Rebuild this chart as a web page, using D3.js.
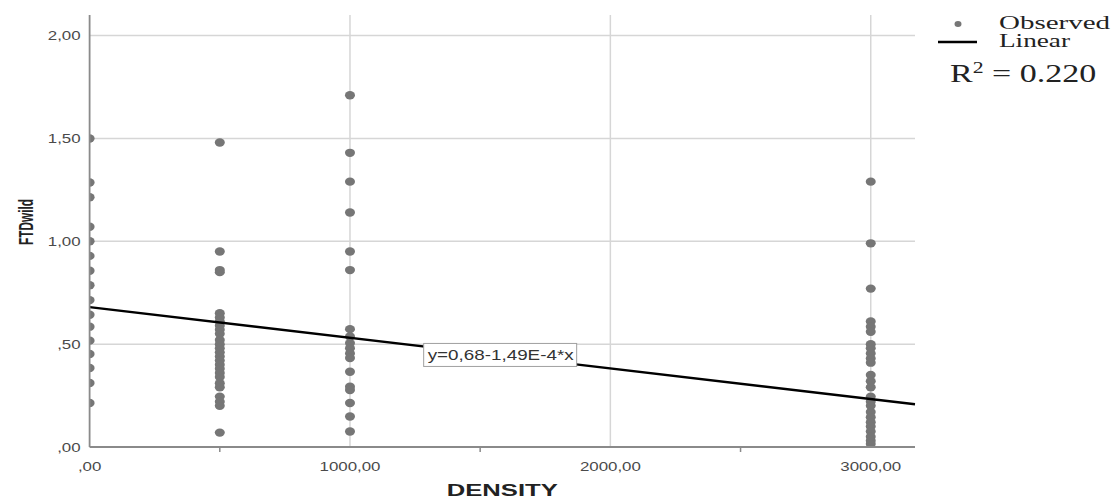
<!DOCTYPE html>
<html>
<head>
<meta charset="utf-8">
<script src="https://cdn.jsdelivr.net/npm/d3@7"></script>
<style>
  body { margin: 0; background: #fff; }
  svg { display: block; }
</style>
</head>
<body>
<svg id="chart" width="1116" height="501"></svg>
<script>
// valores (FTDwild por nivel de DENSITY)
const densityLevels = [0, 500, 1000, 3000];
const ftdAt0 = [1.50, 1.286, 1.214, 1.071, 1.00, 0.929, 0.857, 0.786, 0.714, 0.643, 0.585, 0.517, 0.452, 0.384, 0.311, 0.214];
const ftdAt500 = [1.48, 0.95, 0.86, 0.85, 0.65, 0.63, 0.61, 0.59, 0.57, 0.55, 0.52, 0.50, 0.48, 0.46, 0.44, 0.42, 0.40, 0.38, 0.36, 0.34, 0.31, 0.29, 0.245, 0.22, 0.20, 0.07];
const ftdAt1000 = [1.71, 1.43, 1.29, 1.14, 0.95, 0.86, 0.573, 0.537, 0.505, 0.48, 0.455, 0.433, 0.366, 0.293, 0.277, 0.214, 0.148, 0.075];
const ftdAt3000 = [1.29, 0.99, 0.77, 0.61, 0.585, 0.56, 0.50, 0.48, 0.455, 0.43, 0.41, 0.35, 0.32, 0.29, 0.245, 0.22, 0.20, 0.17, 0.145, 0.12, 0.10, 0.075, 0.05, 0.03, 0.015];

const xTicks = [0, 1000, 2000, 3000];
const xTickLabels = [",00", "1000,00", "2000,00", "3000,00"];
const xMinorTicks = [500, 1500, 2500];
const yTicks = [0, 0.5, 1, 1.5, 2];
const yTickLabels = [",00", ",50", "1,00", "1,50", "2,00"];

const fitIntercept = 0.68;
const fitSlope = -1.49e-4;
const fitLabel = "y=0,68-1,49E-4*x";
const rSquared = "0.220";

const svg = d3.select("#chart");

const x = d3.scaleLinear().domain([0, 3170]).range([89.6, 915]);
const y = d3.scaleLinear().domain([0, 2.1]).range([447, 15]);

const axisColor = "#8a8a8a";
const gridColor = "#d6d6d6";
const dotColor = "#767676";

// lineas de cuadricula
svg.append("g").selectAll("line.h")
  .data(yTicks.filter(d => d > 0))
  .join("line")
  .attr("x1", x(0)).attr("x2", x.range()[1])
  .attr("y1", d => y(d)).attr("y2", d => y(d))
  .attr("stroke", gridColor).attr("stroke-width", 1.5);

svg.append("g").selectAll("line.v")
  .data(xTicks.filter(d => d > 0))
  .join("line")
  .attr("x1", d => x(d)).attr("x2", d => x(d))
  .attr("y1", y(0)).attr("y2", y.range()[1])
  .attr("stroke", gridColor).attr("stroke-width", 1.5);

// puntos observados
const points = [];
[ftdAt0, ftdAt500, ftdAt1000, ftdAt3000].forEach((arr, i) => {
  arr.forEach(v => points.push({ density: densityLevels[i], ftd: v }));
});

svg.append("clipPath").attr("id", "plotClip")
  .append("rect")
  .attr("x", x(0)).attr("y", 0)
  .attr("width", x.range()[1] - x(0) + 10).attr("height", y(0) + 5);

svg.append("g").attr("clip-path", "url(#plotClip)")
  .selectAll("ellipse")
  .data(points)
  .join("ellipse")
  .attr("cx", d => x(d.density))
  .attr("cy", d => y(d.ftd))
  .attr("rx", 5).attr("ry", 4.2)
  .attr("fill", dotColor);

// recta de regresion
const xMax = x.domain()[1];
svg.append("line")
  .attr("x1", x(0)).attr("y1", y(fitIntercept))
  .attr("x2", x(xMax)).attr("y2", y(fitIntercept + fitSlope * xMax))
  .attr("stroke", "#000").attr("stroke-width", 2.4);

// etiqueta de la ecuacion
const labX = 1283;
const lab = svg.append("g")
  .attr("transform", `translate(${x(labX)},${y(fitIntercept + fitSlope * labX) - 3})`);
lab.append("rect")
  .attr("width", 153).attr("height", 23)
  .attr("fill", "#fff").attr("stroke", "#a0a0a0").attr("stroke-width", 1);
lab.append("text")
  .attr("x", 4).attr("y", 17)
  .attr("font-family", "Liberation Sans, Arial, sans-serif")
  .attr("font-size", 14.5)
  .attr("fill", "#333")
  .attr("textLength", 146).attr("lengthAdjust", "spacingAndGlyphs")
  .text(fitLabel);

// ejes
svg.append("line")
  .attr("x1", x(0)).attr("x2", x(0))
  .attr("y1", y.range()[1]).attr("y2", y(0))
  .attr("stroke", axisColor).attr("stroke-width", 1.8);
svg.append("line")
  .attr("x1", x(0)).attr("x2", x.range()[1])
  .attr("y1", y(0)).attr("y2", y(0))
  .attr("stroke", axisColor).attr("stroke-width", 1.8);

svg.append("g").selectAll("line")
  .data(xMinorTicks)
  .join("line")
  .attr("x1", d => x(d)).attr("x2", d => x(d))
  .attr("y1", y(0)).attr("y2", y(0) + 5)
  .attr("stroke", axisColor).attr("stroke-width", 1.5);

const tickFont = "Liberation Sans, Arial, sans-serif";
const sx = 1.25;

svg.append("g").selectAll("text")
  .data(yTicks)
  .join("text")
  .attr("transform", d => `translate(${x(0) - 9},${y(d)}) scale(${sx},1)`)
  .attr("text-anchor", "end")
  .attr("dy", "0.35em")
  .attr("font-family", tickFont).attr("font-size", 13.5)
  .attr("fill", "#4a4a4a")
  .text((d, i) => yTickLabels[i]);

svg.append("g").selectAll("text")
  .data(xTicks)
  .join("text")
  .attr("transform", d => `translate(${x(d)},${y(0) + 24}) scale(${sx},1)`)
  .attr("text-anchor", "middle")
  .attr("font-family", tickFont).attr("font-size", 13.5)
  .attr("fill", "#4a4a4a")
  .text((d, i) => xTickLabels[i]);

// titulos de ejes
svg.append("text")
  .attr("x", (x(0) + x.range()[1]) / 2).attr("y", 496)
  .attr("text-anchor", "middle")
  .attr("font-family", tickFont).attr("font-size", 17).attr("font-weight", "bold")
  .attr("fill", "#222")
  .attr("textLength", 111).attr("lengthAdjust", "spacingAndGlyphs")
  .text("DENSITY");

svg.append("text")
  .attr("transform", "translate(33,222) rotate(-90)")
  .attr("text-anchor", "middle")
  .attr("font-family", tickFont).attr("font-size", 20).attr("font-weight", "bold")
  .attr("fill", "#222")
  .attr("textLength", 46).attr("lengthAdjust", "spacingAndGlyphs")
  .text("FTDwild");

// leyenda
const serif = "Liberation Serif, Times New Roman, serif";
svg.append("ellipse").attr("cx", 958).attr("cy", 24).attr("rx", 3.5).attr("ry", 3).attr("fill", dotColor);
svg.append("line").attr("x1", 938).attr("x2", 977).attr("y1", 42).attr("y2", 42)
  .attr("stroke", "#000").attr("stroke-width", 2.4);
svg.append("text").attr("x", 999).attr("y", 29)
  .attr("font-family", serif).attr("font-size", 18).attr("fill", "#222")
  .attr("textLength", 111).attr("lengthAdjust", "spacingAndGlyphs")
  .text("Observed");
svg.append("text").attr("x", 999).attr("y", 47)
  .attr("font-family", serif).attr("font-size", 18).attr("fill", "#222")
  .attr("textLength", 71).attr("lengthAdjust", "spacingAndGlyphs")
  .text("Linear");

const r2 = svg.append("text")
  .attr("transform", "translate(950,82) scale(1.36,1)")
  .attr("font-family", serif).attr("font-size", 25).attr("fill", "#222");
r2.append("tspan").text("R");
r2.append("tspan").attr("font-size", 16).attr("dy", -9).text("2");
r2.append("tspan").attr("dy", 9).text(" = " + rSquared);
</script>
</body>
</html>
